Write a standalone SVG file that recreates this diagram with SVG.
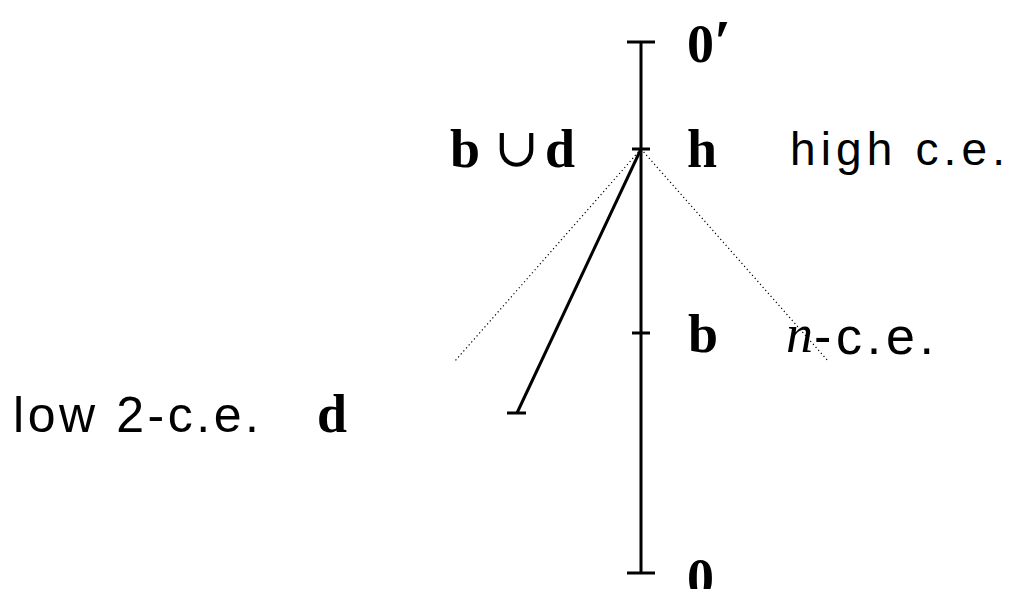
<svg xmlns="http://www.w3.org/2000/svg" width="1016" height="589" viewBox="0 0 1016 589">
<style>
.ln{stroke:#000;stroke-width:3;fill:none}
.dot{stroke:#000;stroke-width:1.2;fill:none;stroke-dasharray:1.2 2.8}
.m{font-family:"Liberation Serif",serif;font-weight:bold;font-size:54px;fill:#000}
.s{font-family:"Liberation Sans",sans-serif;font-size:46px;fill:#000}
.it{font-family:"Liberation Serif",serif;font-style:italic;font-size:54px}
</style>
<rect width="1016" height="589" fill="#fff"/>
<g id="connectors">
<line class="ln" x1="641" y1="42" x2="641" y2="573"/>
<line class="ln" x1="641" y1="149" x2="517" y2="413"/>
<line class="dot" x1="641" y1="149" x2="455" y2="361"/>
<line class="dot" x1="641" y1="149" x2="828" y2="361"/>
</g>
<g id="node-0prime">
<line class="ln" x1="627" y1="42" x2="655" y2="42"/>
<text class="m" x="687" y="62">0<tspan style="font-size:62px">′</tspan></text>
</g>
<g id="node-h">
<line class="ln" x1="632" y1="149" x2="650" y2="149"/>
<text class="m" x="687" y="167">h</text>
<text class="m" x="450" y="167">b</text>
<text x="494" y="166" style="font-family:'DejaVu Serif',serif;font-size:54px">∪</text>
<text class="m" x="545" y="167">d</text>
<text class="s" x="790" y="165" textLength="215" lengthAdjust="spacing">high c.e.</text>
</g>
<g id="node-b">
<line class="ln" x1="632" y1="333" x2="650" y2="333"/>
<text class="m" x="688" y="352">b</text>
<text class="it" x="786" y="352">n</text>
<text class="s" x="814" y="354" textLength="120" lengthAdjust="spacing" style="font-size:52px">-c.e.</text>
</g>
<g id="node-d">
<line class="ln" x1="507" y1="413" x2="526" y2="413"/>
<text class="s" x="13" y="432" textLength="246" lengthAdjust="spacing" style="font-size:50px">low 2-c.e.</text>
<text class="m" x="317" y="432">d</text>
</g>
<g id="node-0">
<line class="ln" x1="627" y1="573" x2="655" y2="573"/>
<text class="m" x="687" y="596">0</text>
</g>
</svg>
